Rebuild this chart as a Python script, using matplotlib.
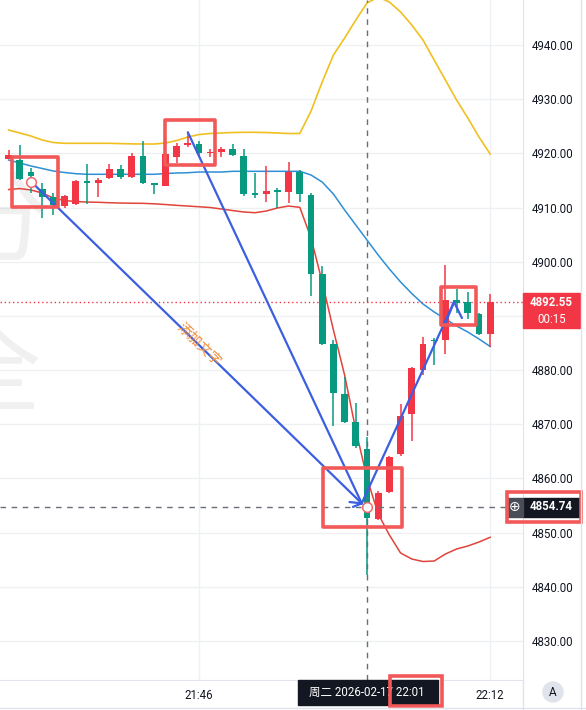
import matplotlib
matplotlib.use("Agg")
import matplotlib.pyplot as plt
import matplotlib.transforms as mtransforms
from matplotlib.patches import Rectangle, Ellipse
from matplotlib.lines import Line2D
import numpy as np

plt.rcParams['font.family'] = ['Roboto', 'Noto Sans CJK SC', 'DejaVu Sans']

# ---------------- data ----------------
times = [f"21:{m:02d}" for m in range(29, 60)] + [f"22:{m:02d}" for m in range(0, 13)]

opens = [4919.0, 4918.8, 4916.6, 4913.4, 4912.0, 4910.3, 4910.6, 4914.9, 4914.5, 4915.4,
         4917.1, 4915.7, 4919.5, 4914.6, 4914.0, 4919.4, 4921.6, 4921.7, 4920.0, 4920.3,
         4920.9, 4919.5, 4912.5, 4912.45, 4913.1, 4912.9, 4916.6, 4912.3, 4897.7, 4884.9,
         4875.5, 4870.45, 4865.4, 4852.6, 4857.55, 4864.5, 4871.9, 4880.0, 4885.5, 4885.55,
         4892.9, 4892.5, 4890.3, 4886.6]
highs = [4920.6, 4921.5, 4917.3, 4914.5, 4912.7, 4912.3, 4915.1, 4918.0, 4915.5, 4918.0,
         4917.9, 4920.1, 4922.2, 4914.6, 4920.0, 4921.9, 4923.8, 4922.2, 4920.8, 4921.2,
         4921.7, 4920.9, 4916.3, 4917.7, 4913.7, 4918.5, 4916.9, 4912.6, 4899.2, 4885.6,
         4878.8, 4873.9, 4867.7, 4857.7, 4864.1, 4873.7, 4880.5, 4886.1, 4885.9, 4899.4,
         4894.9, 4894.4, 4890.5, 4894.0]
lows = [4918.9, 4915.0, 4912.7, 4908.1, 4908.6, 4910.0, 4910.4, 4910.7, 4912.0, 4915.3,
        4915.3, 4915.5, 4914.3, 4912.5, 4913.9, 4918.3, 4921.1, 4919.5, 4919.3, 4919.4,
        4919.5, 4912.2, 4911.8, 4911.1, 4909.9, 4910.8, 4911.1, 4893.6, 4884.6, 4869.7,
        4870.2, 4865.6, 4842.2, 4852.3, 4857.4, 4864.1, 4867.0, 4879.1, 4880.9, 4883.0,
        4890.5, 4889.4, 4886.5, 4884.3]
closes = [4919.7, 4915.3, 4915.8, 4912.0, 4910.5, 4912.1, 4914.9, 4914.5, 4915.1, 4917.1,
          4915.7, 4919.6, 4914.5, 4914.2, 4919.8, 4921.4, 4921.8, 4920.0, 4920.1, 4920.9,
          4919.7, 4912.5, 4912.4, 4913.1, 4912.9, 4916.6, 4912.45, 4897.7, 4884.9, 4875.7,
          4870.5, 4865.9, 4852.7, 4857.3, 4863.9, 4871.5, 4880.3, 4884.9, 4885.3, 4892.9,
          4892.4, 4890.5, 4886.6, 4892.55]

upper_band = [4924.31, 4923.76, 4923.20, 4922.47, 4922.00, 4921.86, 4921.86, 4921.86, 4921.86, 4921.86,
              4921.80, 4921.75, 4921.73, 4921.73, 4921.91, 4922.37, 4923.02, 4923.48, 4923.67, 4923.76,
              4923.85, 4923.89, 4923.89, 4923.85, 4923.76, 4923.67, 4923.67, 4927.80, 4933.17, 4938.15,
              4941.29, 4944.61, 4947.75, 4948.86, 4947.94, 4946.09, 4943.69, 4940.92, 4937.23, 4933.54,
              4929.85, 4926.53, 4923.02, 4919.88]
middle_band = [4918.77, 4918.22, 4917.67, 4917.21, 4916.74, 4916.47, 4916.25, 4916.14, 4916.14, 4916.14,
               4916.14, 4916.14, 4916.14, 4916.14, 4916.28, 4916.38, 4916.43, 4916.56, 4916.56, 4916.56,
               4916.69, 4916.69, 4916.69, 4916.69, 4916.69, 4916.69, 4916.69, 4916.01, 4914.71, 4912.50,
               4909.55, 4906.78, 4904.01, 4901.24, 4898.66, 4896.26, 4894.13, 4892.20, 4890.72, 4889.43,
               4888.14, 4887.03, 4885.74, 4884.35]
lower_band = [4913.33, 4913.51, 4913.24, 4912.68, 4911.76, 4911.30, 4911.11, 4911.02, 4910.97, 4910.89,
              4910.84, 4910.80, 4910.78, 4910.69, 4910.56, 4910.41, 4910.28, 4910.15, 4910.01, 4909.73,
              4909.45, 4909.18, 4909.05, 4909.36, 4909.92, 4910.28, 4910.04, 4904.40, 4896.26, 4887.40,
              4879.09, 4868.94, 4860.08, 4853.44, 4849.56, 4846.24, 4845.13, 4844.67, 4844.76, 4846.05,
              4846.98, 4847.53, 4848.27, 4849.14]

price_ticks = [4830, 4840, 4850, 4860, 4870, 4880, 4890, 4900, 4910, 4920, 4930, 4940]
time_ticks = ["21:46", "22:12"]
last_price = 4892.55
countdown = "00:15"
cross_price = 4854.74
cross_time = "22:01"
cross_date = "周二 2026-02-17"
note_text = "添加文字"

# user drawings: (bar index, price)
markers = [(2, 4914.8), (32, 4854.74)]
arrow_tip = (31.53, 4855.4)
line_starts = [(2, 4914.8), (16.0, 4923.9)]
rise_end = (39.77, 4892.57)
rise_head = [(39.05, 4888.9), (40.48, 4889.6)]
small_head = [(30.44, 4855.65), (30.75, 4854.75)]
note_pos = (17.0, 4884.8)
boxes = [((0.3, 4910.1), (4.4, 4919.33)),
         ((13.96, 4917.85), (18.43, 4926.16)),
         ((28.07, 4851.04), (35.13, 4861.93)),
         ((38.61, 4888.32), (41.73, 4895.33))]

# ---------------- style ----------------
UP = '#f23645'
DOWN = '#089981'
GRID = '#eef0f4'
BOXC = '#f25858'
DRAW_BLUE = '#3b5fe0'
TXT = '#131722'

fig = plt.figure(figsize=(5.86, 7.10), dpi=100)
fig.patch.set_facecolor('white')
ax = fig.add_axes([0, 30 / 710, 523 / 586, 680 / 710])
ax.set_facecolor('white')

x = np.arange(len(times))
ax.set_xlim(-0.77, 45.93)
ax.set_ylim(4822.80, 4948.31)

# grid
for p in price_ticks:
    ax.axhline(p, color=GRID, lw=1, zorder=0)
time_idx = [times.index(t) for t in time_ticks]
for t in time_idx:
    ax.axvline(t, color=GRID, lw=1, zorder=0)

# watermark (partly outside the plot on the left, as in the source)
ax.text(-0.9, 4907, "分", fontsize=72, color='#000000', alpha=0.06,
        family=['Noto Sans CJK SC'], ha='center', va='center', zorder=0.5)
ax.text(-1.6, 4879, "全", fontsize=72, color='#000000', alpha=0.06,
        family=['Noto Sans CJK SC'], ha='center', va='center', zorder=0.5)

# bands
ax.plot(x, upper_band, color='#f0c020', lw=1.2, zorder=2)
ax.plot(x, middle_band, color='#2e8fd6', lw=1.1, zorder=2)
ax.plot(x, lower_band, color='#e0443a', lw=1.1, zorder=2)

# candles
o = np.array(opens); c = np.array(closes); h = np.array(highs); l = np.array(lows)
cols = np.where(c >= o, UP, DOWN)
ax.vlines(x, l, h, colors=cols, lw=1.1, zorder=3)
body = np.maximum(np.abs(c - o), 0.25)
ax.bar(x, body, bottom=np.minimum(o, c), width=0.6, color=cols, zorder=3, linewidth=0)

# last price dotted line
ax.axhline(last_price, color=UP, lw=1, ls=(0, (1, 2)), zorder=2.5)

# crosshair
cross_idx = times.index(cross_time)
ax.axvline(cross_idx, color='#6a6d78', lw=1, ls=(0, (4, 4)), zorder=4)
ax.axhline(cross_price, color='#6a6d78', lw=1, ls=(0, (4, 4)), zorder=4)

# drawings
for s in line_starts:
    ax.plot([s[0], arrow_tip[0]], [s[1], arrow_tip[1]], color=DRAW_BLUE, lw=1.6, zorder=5,
            solid_capstyle='round')
for a in small_head:
    ax.plot([a[0], arrow_tip[0]], [a[1], arrow_tip[1]], color=DRAW_BLUE, lw=1.6, zorder=5,
            solid_capstyle='round')
ax.plot([arrow_tip[0], rise_end[0]], [arrow_tip[1], rise_end[1]], color=DRAW_BLUE, lw=1.6, zorder=5)
for a in rise_head:
    ax.plot([a[0], rise_end[0]], [a[1], rise_end[1]], color=DRAW_BLUE, lw=1.6, zorder=5,
            solid_capstyle='round')
for mx, my in markers:
    ax.plot(mx, my, marker='o', ms=7, mfc='white', mec='#f06a6a', mew=1.1, zorder=6)

ax.text(note_pos[0], note_pos[1], note_text, rotation=-44, color='#f0903c', fontsize=10,
        family=['Noto Sans CJK SC'], ha='center', va='center', zorder=5,
        rotation_mode='anchor')

for (x0, y0), (x1, y1) in boxes:
    ax.add_patch(Rectangle((x0, y0), x1 - x0, y1 - y0, fill=False, edgecolor=BOXC,
                           lw=2.6, zorder=7, joinstyle='round'))

# axes / spines
for s in ['top', 'left']:
    ax.spines[s].set_visible(False)
for s in ['right', 'bottom']:
    ax.spines[s].set_color('#e0e3eb')
ax.yaxis.tick_right()
shown = [p for p in price_ticks if p != 4890]
ax.set_yticks(shown)
ax.set_yticklabels([f"{p:.2f}" for p in shown])
ax.set_xticks(time_idx)
ax.set_xticklabels(time_ticks)
ax.tick_params(axis='y', length=0, pad=6, labelsize=8.3, labelcolor=TXT)
ax.tick_params(axis='x', length=0, pad=6.5, labelsize=8.3, labelcolor=TXT)

ty = mtransforms.blended_transform_factory(ax.transAxes, ax.transData)
tx = mtransforms.blended_transform_factory(ax.transData, ax.transAxes)

# last price tag
ax.add_patch(Rectangle((1.0, 4887.75), 0.109, 6.5, transform=ty, color=UP, clip_on=False, zorder=8))
ax.text(1.054, last_price, f"{last_price:.2f}", transform=ty, ha='center', va='center',
        color='white', fontsize=8.3, fontweight='bold', clip_on=False, zorder=9)
ax.text(1.054, 4889.35, countdown, transform=ty, ha='center', va='center',
        color='white', fontsize=8.3, clip_on=False, zorder=9)

# crosshair price tag
ax.add_patch(Rectangle((1.0, 4852.95), 0.109, 3.45, transform=ty, color=TXT, clip_on=False, zorder=8))
ax.text(1.054, cross_price, f"{cross_price:.2f}", transform=ty, ha='center', va='center',
        color='white', fontsize=8.3, fontweight='bold', clip_on=False, zorder=9)
ax.add_patch(Rectangle((0.9700, 4852.95), 0.03, 3.45, transform=ty, color='#4a4d57',
                       clip_on=False, zorder=8))
ax.text(0.984, cross_price, "⊕", transform=ty, ha='center', va='center', color='white',
        fontsize=10, family=['DejaVu Sans'], clip_on=False, zorder=9)
ax.add_patch(Rectangle((0.9694, 4851.96), 0.1415, 5.54, transform=ty, fill=False,
                       edgecolor=BOXC, lw=2.6, clip_on=False, zorder=10))

# crosshair time tag
ax.add_patch(Rectangle((25.84, -0.0368), 12.5, 0.0368, transform=tx, color=TXT,
                       clip_on=False, zorder=8))
ax.text(32.0, -0.0184, f"{cross_date} {cross_time}", transform=tx, ha='center', va='center',
        color='white', fontsize=8.3, family=['Roboto', 'Noto Sans CJK SC'], clip_on=False, zorder=9)
ax.add_patch(Rectangle((34.05, -0.038), 4.65, 0.0438, transform=tx, fill=False,
                       edgecolor=BOXC, lw=2.6, clip_on=False, zorder=10))

# frame lines and "A" button
fig.add_artist(Line2D([581 / 586, 581 / 586], [0, 1], color='#e0e3eb', lw=1))
fig.add_artist(Line2D([0, 1], [2 / 710, 2 / 710], color='#e0e3eb', lw=1))
fig.add_artist(Line2D([523 / 586, 523 / 586], [0, 30 / 710], color='#e0e3eb', lw=1))
fig.add_artist(Ellipse((553 / 586, 18 / 710), 20 / 586, 20 / 710, color='#e0e3eb'))
fig.text(553 / 586, 18 / 710, "A", ha='center', va='center', fontsize=8.5, color=TXT)

fig.savefig("out.png", dpi=100, facecolor='white')
